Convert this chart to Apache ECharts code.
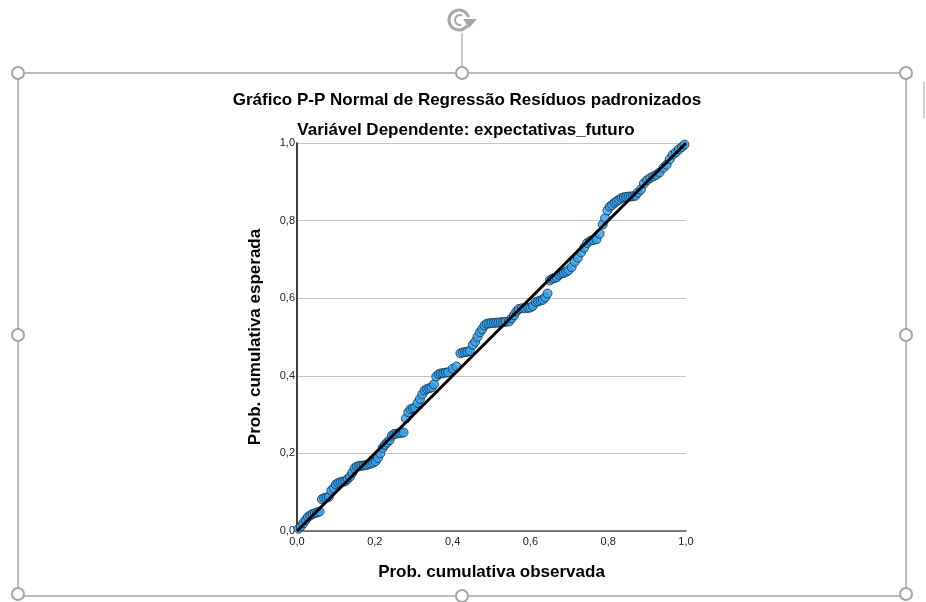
<!DOCTYPE html>
<html><head><meta charset="utf-8">
<script src="https://cdn.jsdelivr.net/npm/echarts@6/dist/echarts.min.js"></script>
<style>html,body{margin:0;padding:0;background:#fff}#c{width:926px;height:602px}</style>
</head><body><div id="c"></div>
<script>
const titleText = "Gráfico P-P Normal de Regressão Resíduos padronizados";
const subtitleText = "Variável Dependente: expectativas_futuro";
const xName = "Prob. cumulativa observada";
const yName = "Prob. cumulativa esperada";
const tickValues = [0, 0.2, 0.4, 0.6, 0.8, 1.0];
const observed = [0.004,0.010,0.016,0.022,0.028,0.034,0.040,0.046,0.052,0.058,
0.064,0.070,0.076,0.082,0.088,0.094,0.100,0.106,0.112,0.118,0.124,0.130,0.136,0.142,
0.148,0.154,0.160,0.166,0.172,0.178,0.184,0.190,0.196,0.202,0.208,0.214,0.220,0.226,
0.232,0.238,0.244,0.250,0.256,0.262,0.268,0.274,0.280,0.286,0.292,0.298,0.304,0.310,
0.316,0.322,0.328,0.334,0.340,0.346,0.352,0.358,0.364,0.370,0.376,0.382,0.388,0.400,
0.410,0.420,0.426,0.432,0.438,0.444,0.452,0.458,0.464,0.470,0.476,0.482,0.488,0.494,
0.500,0.506,0.512,0.518,0.524,0.530,0.536,0.545,0.552,0.558,0.564,0.570,0.578,0.586,
0.594,0.600,0.606,0.614,0.620,0.626,0.632,0.638,0.644,0.650,0.656,0.662,0.668,0.674,
0.680,0.686,0.692,0.698,0.706,0.714,0.722,0.730,0.738,0.746,0.754,0.762,0.770,0.778,
0.786,0.792,0.798,0.804,0.810,0.816,0.822,0.828,0.834,0.840,0.846,0.852,0.858,0.864,
0.870,0.876,0.884,0.892,0.900,0.908,0.916,0.924,0.932,0.942,0.950,0.958,0.966,0.974,
0.982,0.990,0.996];
const expected = [0.006,0.012,0.020,0.028,0.036,0.040,0.044,0.046,0.048,0.050,
0.082,0.085,0.086,0.088,0.104,0.110,0.120,0.124,0.126,0.127,0.128,0.134,0.140,0.150,
0.162,0.166,0.168,0.168,0.169,0.170,0.172,0.174,0.176,0.180,0.188,0.200,0.214,0.222,
0.228,0.234,0.246,0.250,0.251,0.252,0.253,0.254,0.290,0.306,0.314,0.316,0.318,0.330,
0.340,0.352,0.362,0.366,0.368,0.370,0.378,0.398,0.404,0.406,0.407,0.408,0.409,0.418,
0.424,0.458,0.460,0.461,0.462,0.464,0.480,0.488,0.500,0.512,0.520,0.530,0.534,0.535,
0.536,0.536,0.537,0.537,0.538,0.538,0.539,0.540,0.548,0.556,0.566,0.572,0.574,0.574,
0.575,0.576,0.580,0.590,0.592,0.594,0.596,0.602,0.612,0.646,0.650,0.652,0.654,0.660,
0.664,0.665,0.668,0.672,0.680,0.694,0.704,0.718,0.730,0.742,0.748,0.750,0.752,0.766,
0.790,0.806,0.826,0.836,0.840,0.846,0.850,0.854,0.858,0.860,0.861,0.862,0.862,0.863,
0.864,0.872,0.880,0.896,0.904,0.910,0.914,0.918,0.924,0.936,0.944,0.958,0.970,0.976,
0.984,0.990,0.996];
const refLine = [[0, 0], [1, 1]];

const points = observed.map((v, i) => [v, expected[i]]);
const fmt = v => v.toFixed(1).replace('.', ',');
const chart = echarts.init(document.getElementById('c'), null, {renderer: 'canvas'});
const frameColor = '#a6a6a6';
const font = 'Liberation Sans';
const handle = (x, y) => ({type: 'circle', shape: {cx: x, cy: y, r: 6}, style: {fill: '#fff', stroke: frameColor, lineWidth: 2}, z: 20});
chart.setOption({
  animation: false,
  backgroundColor: '#fff',
  title: [
    {text: titleText, left: 462, top: 87, textAlign: 'center', textStyle: {fontFamily: font, fontSize: 17, fontWeight: 'bold', color: '#000'}},
    {text: subtitleText, left: 461, top: 117, textAlign: 'center', textStyle: {fontFamily: font, fontSize: 17, fontWeight: 'bold', color: '#000'}}
  ],
  grid: {left: 297, right: 240, top: 143, bottom: 71, containLabel: false},
  xAxis: {
    type: 'value', min: 0, max: 1, interval: 0.2,
    name: xName, nameLocation: 'middle', nameGap: 33,
    nameTextStyle: {fontFamily: font, fontSize: 17, fontWeight: 'bold', color: '#000'},
    axisLine: {show: true, lineStyle: {color: '#555', width: 1.5}},
    axisTick: {show: false},
    axisLabel: {formatter: fmt, fontFamily: font, fontSize: 11, color: '#222', margin: 5},
    splitLine: {show: false}
  },
  yAxis: {
    type: 'value', min: 0, max: 1, interval: 0.2,
    name: yName, nameLocation: 'middle', nameGap: 33, nameRotate: 90,
    nameTextStyle: {fontFamily: font, fontSize: 17, fontWeight: 'bold', color: '#000'},
    axisLine: {show: true, lineStyle: {color: '#000', width: 1.5}},
    axisTick: {show: false},
    axisLabel: {formatter: fmt, fontFamily: font, fontSize: 11, color: '#222', margin: 2},
    splitLine: {show: true, lineStyle: {color: '#c4c4c4', width: 1}}
  },
  series: [
    {type: 'scatter', data: points, symbol: 'circle', symbolSize: 9,
     itemStyle: {color: '#2fa3ee', borderColor: '#14304c', borderWidth: 1}, z: 2},
    {type: 'line', data: refLine, symbol: 'none', lineStyle: {color: '#000', width: 3}, z: 3}
  ],
  graphic: [
    {type: 'line', shape: {x1: 18, y1: 73, x2: 906, y2: 73}, style: {stroke: frameColor, lineWidth: 1.5}, z: 10},
    {type: 'line', shape: {x1: 18, y1: 596, x2: 906, y2: 596}, style: {stroke: frameColor, lineWidth: 1.5}, z: 10},
    {type: 'line', shape: {x1: 18, y1: 73, x2: 18, y2: 596}, style: {stroke: frameColor, lineWidth: 1.5}, z: 10},
    {type: 'line', shape: {x1: 906, y1: 73, x2: 906, y2: 596}, style: {stroke: frameColor, lineWidth: 1.5}, z: 10},
    {type: 'line', shape: {x1: 462, y1: 33, x2: 462, y2: 67}, style: {stroke: frameColor, lineWidth: 1.2}, z: 10},
    {type: 'line', shape: {x1: 924, y1: 82, x2: 924, y2: 118}, style: {stroke: '#c0c0c0', lineWidth: 1.5}, z: 10},
    handle(18, 73), handle(462, 73), handle(906, 73),
    handle(18, 335), handle(906, 335),
    handle(18, 594), handle(462, 596), handle(906, 594),
    {type: 'arc', shape: {cx: 459, cy: 20, r: 10, startAngle: 0.6, endAngle: 6.0}, style: {stroke: frameColor, lineWidth: 3, fill: null}, z: 20},
    {type: 'arc', shape: {cx: 460, cy: 20, r: 5, startAngle: 1.3, endAngle: 5.2}, style: {stroke: frameColor, lineWidth: 2, fill: null}, z: 20},
    {type: 'polygon', shape: {points: [[463, 19], [477, 19], [469, 28]]}, style: {fill: frameColor}, z: 20}
  ]
});
</script></body></html>
